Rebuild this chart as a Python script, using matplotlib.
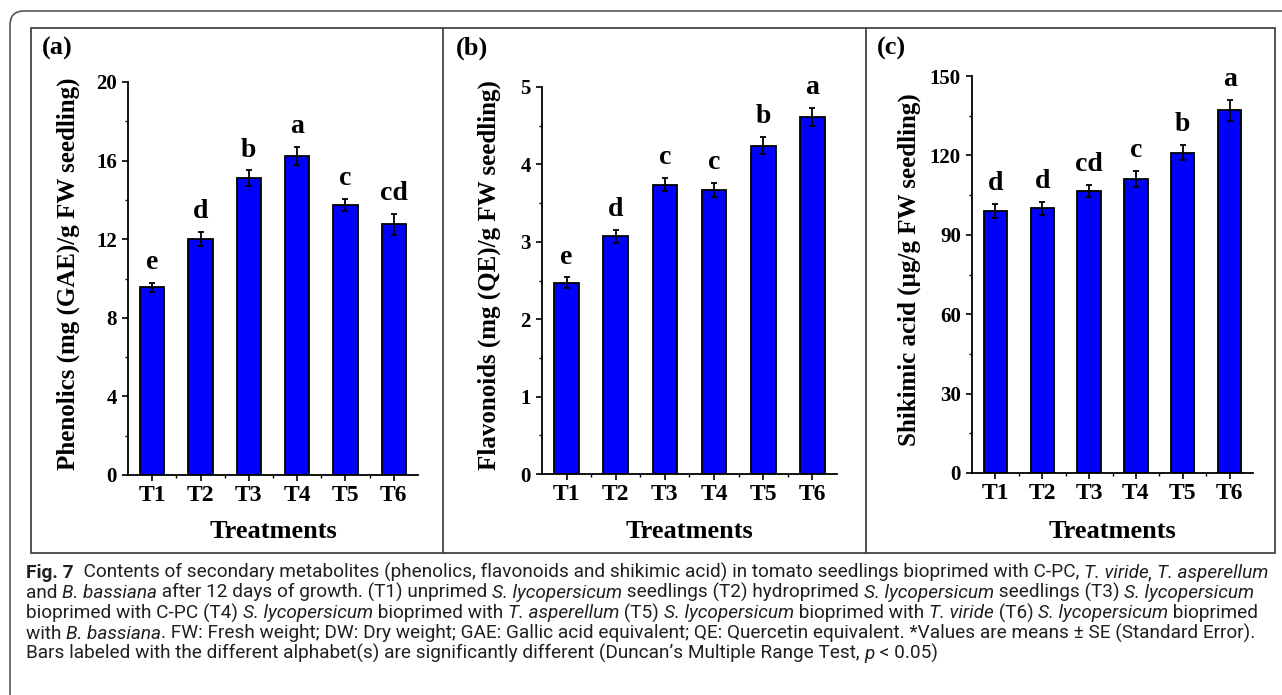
import numpy as np
import matplotlib
matplotlib.use("Agg")
import matplotlib.pyplot as plt
from matplotlib.patches import Rectangle, FancyBboxPatch
from matplotlib.lines import Line2D
from matplotlib.transforms import IdentityTransform
from matplotlib.ticker import MultipleLocator, FixedLocator

# data
treatments = ["T1", "T2", "T3", "T4", "T5", "T6"]

phenolics = [9.55, 12.0, 15.1, 16.25, 13.75, 12.75]
phenolics_se = [0.22, 0.35, 0.4, 0.45, 0.3, 0.55]
phenolics_grp = ["e", "d", "b", "a", "c", "cd"]

flavonoids = [2.47, 3.07, 3.74, 3.67, 4.24, 4.61]
flavonoids_se = [0.07, 0.08, 0.09, 0.09, 0.11, 0.12]
flavonoids_grp = ["e", "d", "c", "c", "b", "a"]

shikimic = [99.0, 100.0, 106.5, 111.0, 121.0, 137.0]
shikimic_se = [2.5, 2.4, 2.4, 3.0, 2.8, 4.0]
shikimic_grp = ["d", "d", "cd", "c", "b", "a"]

W, H = 1282, 695
SERIF = "Liberation Serif"
CAP = "Roboto"

fig = plt.figure(figsize=(W / 100, H / 100), dpi=100)


def px(x, y):
    return x / W, 1 - y / H


def panel(box, vals, errs, grps, ymax, major, ylabel, ylab_x, tag, tag_x):
    l, t, r, b = box
    ax = fig.add_axes([l / W, 1 - b / H, (r - l) / W, (b - t) / H])
    x = np.arange(1, len(treatments) + 1)
    ax.bar(x, vals, width=0.5, color="#0000ff", edgecolor="black", linewidth=1.3, zorder=2)
    ax.errorbar(x, vals, yerr=errs, fmt="none", ecolor="black", elinewidth=1.3,
                capsize=2.5, capthick=1.3, zorder=3)
    for xi, v, e, g in zip(x, vals, errs, grps):
        ax.annotate(g, (xi, v + e), xytext=(0, 10), textcoords="offset points",
                    ha="center", va="baseline", fontsize=20, fontweight="bold",
                    family=SERIF)
    ax.set_xlim(0.5, 6.5)
    ax.set_ylim(0, ymax)
    ax.set_xticks(x)
    ax.set_xticklabels(treatments)
    ax.xaxis.set_minor_locator(FixedLocator(x[:-1] + 0.5))
    ax.yaxis.set_major_locator(MultipleLocator(major))
    ax.yaxis.set_minor_locator(MultipleLocator(major / 2))
    for s in ["top", "right"]:
        ax.spines[s].set_visible(False)
    for s in ["left", "bottom"]:
        ax.spines[s].set_linewidth(1.3)
    ax.tick_params(which="major", direction="out", length=4, width=1.2)
    ax.tick_params(which="minor", direction="out", length=2.5, width=1.0)
    ax.tick_params(axis="y", pad=4)
    ax.tick_params(axis="x", pad=3)
    for lab in ax.get_yticklabels():
        lab.set_fontfamily(SERIF)
        lab.set_fontweight("bold")
        lab.set_fontsize(15)
    for lab in ax.get_xticklabels():
        lab.set_fontfamily(SERIF)
        lab.set_fontweight("bold")
        lab.set_fontsize(17)
    cx, cy = px(ylab_x, (t + b) / 2 - 5)
    fig.text(cx, cy, ylabel, rotation=90, ha="center", va="center",
             fontsize=18, fontweight="bold", family=SERIF)
    tx, ty = px((l + r) / 2, 532)
    fig.text(tx, ty, "Treatments", ha="center", va="center",
             fontsize=19, fontweight="bold", family=SERIF)
    gx, gy = px(tag_x, 48)
    fig.text(gx, gy, tag, ha="left", va="center", fontsize=19,
             fontweight="bold", family=SERIF)
    return ax


panel((128, 82, 418, 475), phenolics, phenolics_se, phenolics_grp, 20, 4,
      "Phenolics (mg (GAE)/g FW seedling)", 68, "(a)", 42)
panel((542, 87, 837, 474), flavonoids, flavonoids_se, flavonoids_grp, 5, 1,
      "Flavonoids (mg (QE)/g FW seedling)", 489, "(b)", 456)
panel((972, 76, 1253, 473), shikimic, shikimic_se, shikimic_grp, 150, 30,
      "Shikimic acid (\u00b5g/g FW seedling)", 909, "(c)", 877)

# frames
frame_col = "#555555"
fig.add_artist(FancyBboxPatch((10, -60), 1400, H - 11 + 60,
                              boxstyle="round,pad=0,rounding_size=14",
                              transform=IdentityTransform(), fill=False,
                              edgecolor=frame_col, linewidth=1.2))
x0, y0 = px(31, 553)
x1, y1 = px(1275, 28)
fig.add_artist(Rectangle((x0, y0), x1 - x0, y1 - y0, transform=fig.transFigure,
                         fill=False, edgecolor="#444444", linewidth=1.3))
for xd in (443, 866):
    fig.add_artist(Line2D([xd / W, xd / W], [y0, y1], transform=fig.transFigure,
                          color="#444444", linewidth=1.3))

# caption
N, I, B = "normal", "italic", "bold"
caption = [
    [("Fig. 7", B), ("  Contents of secondary metabolites (phenolics, flavonoids and shikimic acid) "
                     "in tomato seedlings bioprimed with C-PC, ", N),
     ("T. viride", I), (", ", N), ("T. asperellum", I)],
    [("and ", N), ("B. bassiana", I), (" after 12 days of growth. (T1) unprimed ", N),
     ("S. lycopersicum", I), (" seedlings (T2) hydroprimed ", N), ("S. lycopersicum", I),
     (" seedlings (T3) ", N), ("S. lycopersicum", I)],
    [("bioprimed with C-PC (T4) ", N), ("S. lycopersicum", I), (" bioprimed with ", N),
     ("T. asperellum", I), (" (T5) ", N), ("S. lycopersicum", I), (" bioprimed with ", N),
     ("T. viride", I), (" (T6) ", N), ("S. lycopersicum", I), (" bioprimed", N)],
    [("with ", N), ("B. bassiana", I),
     (". FW: Fresh weight; DW: Dry weight; GAE: Gallic acid equivalent; QE: Quercetin "
      "equivalent. *Values are means \u00b1 SE (Standard Error).", N)],
    [("Bars labeled with the different alphabet(s) are significantly different "
      "(Duncan\u2019s Multiple Range Test, ", N), ("p", I), (" < 0.05)", N)],
]

renderer = fig.canvas.get_renderer()


def seg_text(x, y, txt, style, size):
    kw = dict(fontsize=size, family=[CAP, "DejaVu Sans"], ha="left", va="baseline",
              color="#231f20")
    if style == B:
        kw["fontweight"] = "bold"
    elif style == I:
        kw["fontstyle"] = "italic"
    return fig.text(x / W, 1 - y / H, txt, **kw)


# fit first line to its width in the reference
tmp = [seg_text(0, 0, t, s, 10) for t, s in caption[0]]
total = sum(t.get_window_extent(renderer).width for t in tmp)
for t in tmp:
    t.remove()
cap_size = 10 * (1267 - 26) / total

for i, line in enumerate(caption):
    xpos = 26
    ybase = 578 + 20.2 * i
    for txt, style in line:
        t = seg_text(xpos, ybase, txt, style, cap_size)
        xpos += t.get_window_extent(renderer).width

fig.savefig("out.png", dpi=100)
